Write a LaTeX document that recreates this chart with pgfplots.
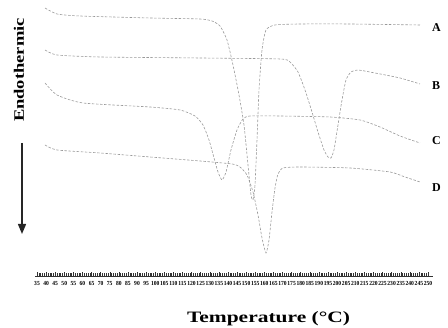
\documentclass[border=0pt]{standalone}
\usepackage{fontspec}
\setmainfont{Liberation Serif}
\usepackage{pgfplots}
\pgfplotsset{compat=1.18}
\usetikzlibrary{arrows.meta}
\tikzset{curve/.style={black!40, mark=none, line width=0.6pt, dash pattern=on 2.5pt off 1.6pt, smooth, tension=0.35}}
\begin{document}
\begin{tikzpicture}
\begin{axis}[
  scale only axis,
  width=398.3pt, height=270pt,
  xmin=34, xmax=253, ymin=0, ymax=270,
  axis x line=bottom, axis y line=none,
  axis line style={-, line width=0.9pt, black!80},
  xtick={35,40,...,250},
  minor x tick num=4,
  tick align=inside,
  major tick length=3.5pt, minor tick length=2.5pt,
  tick style={black!80, line width=0.4pt},
  /pgf/number format/assume math mode=true,
  xticklabel style={font=\fontsize{6.2}{7}\selectfont\bfseries, yshift=-5pt, inner sep=0pt, xscale=0.9},
  clip=false,
]
% Curve A
\addplot[curve] coordinates {(39.40,268) (46.00,262) (58.64,260) (97.14,258) (124.63,257) (131.23,255) (135.63,250) (139.48,236) (142.77,211) (146.07,181) (148.82,151) (151.02,111) (152.67,81) (153.77,76) (154.87,91) (155.97,136) (157.07,186) (158.72,226) (160.92,246) (165.87,251) (179.62,252) (207.11,252) (245.60,251)};
% Curve B
\addplot[curve] coordinates {(39.40,226) (46.00,221) (69.64,219) (124.63,218) (168.62,217) (174.12,214) (178.52,204) (182.37,186) (186.21,164) (189.51,144) (192.81,126) (195.01,119) (196.66,118) (198.31,126) (200.51,151) (202.71,176) (204.91,196) (207.66,204) (211.51,206) (220.86,203) (234.60,198) (245.60,192)};
% Curve C
\addplot[curve] coordinates {(39.40,193) (46.00,181) (60.29,173) (97.14,169) (113.63,166) (121.88,160) (126.28,151) (129.58,136) (132.33,118) (134.53,104) (136.73,96) (138.93,104) (141.67,126) (144.97,146) (148.27,157) (152.12,160) (168.62,160) (196.11,159) (212.61,156) (223.61,149) (234.60,140) (245.60,133)};
% Curve D
\addplot[curve] coordinates {(39.40,131) (46.00,126) (69.64,123) (97.14,119) (124.63,115) (142.22,112) (146.62,109) (150.47,101) (153.77,84) (156.52,61) (158.72,38) (160.92,23) (162.57,36) (164.22,64) (165.87,88) (167.52,102) (170.27,108) (179.62,109) (207.11,108) (229.10,104) (237.35,99) (245.60,94)};
\node[anchor=west, inner sep=0pt, font=\fontsize{12}{14}\selectfont\bfseries] at (axis cs:252.2,248) {A};
\node[anchor=west, inner sep=0pt, font=\fontsize{12}{14}\selectfont\bfseries] at (axis cs:252.2,190) {B};
\node[anchor=west, inner sep=0pt, font=\fontsize{12}{14}\selectfont\bfseries] at (axis cs:252.2,135) {C};
\node[anchor=west, inner sep=0pt, font=\fontsize{12}{14}\selectfont\bfseries] at (axis cs:252.2,88) {D};
\node[rotate=90, inner sep=0pt] at (axis cs:25.1,206) {\resizebox{104pt}{10pt}{\bfseries Endothermic}};
\draw[line width=1.5pt, black!85, -{Triangle[width=8pt,length=10pt]}] (axis cs:26.75,133) -- (axis cs:26.75,42);
\node[inner sep=0pt] at (axis cs:162.3,-43) {\resizebox{163pt}{11pt}{\bfseries Temperature (°C)}};
\coordinate (BL) at (axis cs:14.65,-52);
\coordinate (TR) at (axis cs:261.0,276);
\end{axis}
\pgfresetboundingbox
\path[use as bounding box] (BL) rectangle (TR);
\end{tikzpicture}
\end{document}
